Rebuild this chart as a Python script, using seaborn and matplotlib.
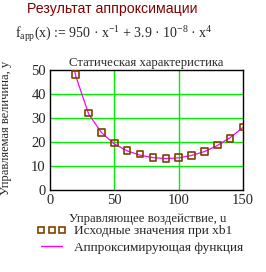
import matplotlib
matplotlib.use("Agg")
import matplotlib.pyplot as plt
import seaborn as sns
import pandas as pd
from matplotlib.lines import Line2D

# data
x_points = [20, 30, 40, 50, 60, 70, 80, 90, 100, 110, 120, 130, 140, 150]
y_points = [48.2, 32.0, 24.0, 19.5, 16.4, 15.0, 13.6, 13.2, 13.6, 14.4, 16.1, 18.8, 21.5, 26.2]
x_line = [19, 20, 30, 40, 50, 60, 70, 80, 90, 100, 110, 120, 130, 140, 150]
y_line = [50.0, 47.5, 31.7, 23.9, 19.2, 16.3, 14.5, 13.5, 13.1, 13.4, 14.4, 16.0, 18.5, 21.8, 26.1]
x_ticks = [0, 50, 100, 150]
y_ticks = [0, 10, 20, 30, 40, 50]

sns.set_style("white")
plt.rcParams['font.family'] = ['Liberation Serif', 'DejaVu Serif']
plt.rcParams['mathtext.fontset'] = 'custom'
plt.rcParams['mathtext.rm'] = 'Liberation Serif'
plt.rcParams['mathtext.it'] = 'Liberation Serif'

fig = plt.figure(figsize=(2.66, 2.72), dpi=100)
fig.patch.set_facecolor('white')
ax = fig.add_axes([50/266, 1-190/272, 193/266, 120/272])

df_pts = pd.DataFrame({'x': x_points, 'y': y_points})
df_line = pd.DataFrame({'x': x_line, 'y': y_line})

sns.lineplot(data=df_line, x='x', y='y', ax=ax, color='#ff00ff', linewidth=0.9, zorder=3)
sns.scatterplot(data=df_pts, x='x', y='y', ax=ax, marker='s', s=22,
                facecolor='none', edgecolor='#804000', linewidth=1.2, zorder=4)

ax.set_xlim(0, 150)
ax.set_ylim(0, 50)
ax.set_xticks(x_ticks)
ax.set_yticks(y_ticks)
ax.set_xticklabels([str(v) for v in x_ticks], fontsize=10.5)
ax.set_yticklabels([str(v) for v in y_ticks], fontsize=10.5)
ax.tick_params(axis='both', length=0, pad=3)
ax.set_xlabel('')
ax.set_ylabel('')
for v in [50, 100]:
    ax.axvline(v, color='#00ee00', linewidth=1.0, zorder=1)
for v in [10, 20, 30, 40]:
    ax.axhline(v, color='#00ee00', linewidth=1.0, zorder=1)
for s in ax.spines.values():
    s.set_visible(True)
    s.set_color('black')
    s.set_linewidth(1.0)

ax.set_title('Статическая характеристика', fontsize=9.2, pad=3)

fig.text(27/266, 1-9/272, 'Результат аппроксимации', color='#800000',
         family=['Liberation Sans', 'DejaVu Sans'], fontsize=10.2, va='center', ha='left')
fig.text(15/266, 1-34/272,
         r'f$_{\mathrm{app}}$(x) := 950 · x$^{-1}$ + 3.9 · 10$^{-8}$ · x$^{4}$',
         fontsize=10, va='center', ha='left')

fig.text(6/266, 1-128/272, 'Управляемая величина, у', rotation=90, fontsize=9,
         va='center', ha='center')
fig.text(148/266, 1-219/272, 'Управляющее воздействие, u', fontsize=9.2,
         va='center', ha='center')

h1 = Line2D([], [], linestyle='none', marker='s', markersize=3.8, markerfacecolor='none',
            markeredgecolor='#804000', markeredgewidth=1.2)
h2 = Line2D([], [], color='#ff00ff', linewidth=1.0)
fig.legend([h1, h2], ['Исходные значения при xb1', 'Аппроксимирующая функция'],
           loc='upper left', bbox_to_anchor=(37/266, 1-225/272), frameon=False,
           numpoints=3, handlelength=2.2, handletextpad=0.6, labelspacing=0.3,
           fontsize=9.6, borderaxespad=0, borderpad=0)

fig.savefig('out.png', dpi=100, facecolor='white')
